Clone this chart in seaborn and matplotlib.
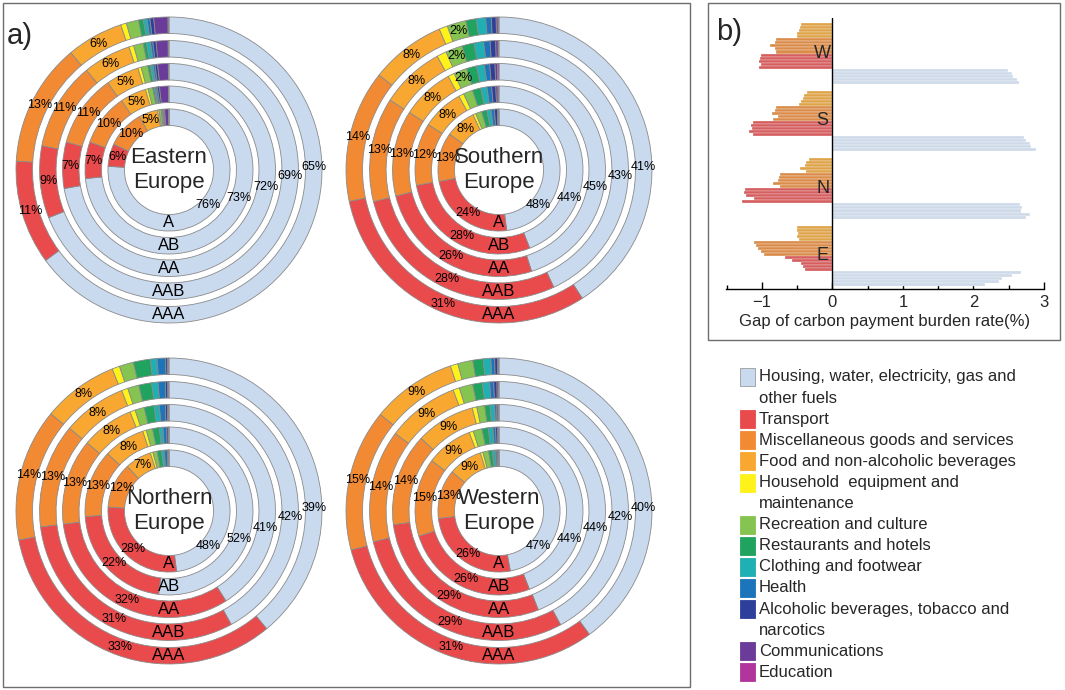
import numpy as np
import pandas as pd
import matplotlib
matplotlib.use('Agg')
import matplotlib.pyplot as plt
import seaborn as sns
from matplotlib.patches import Rectangle
from matplotlib.ticker import MultipleLocator

# ---------------- data ----------------
categories = ["Housing, water, electricity, gas and\nother fuels", "Transport",
              "Miscellaneous goods and services", "Food and non-alcoholic beverages",
              "Household  equipment and\nmaintenance", "Recreation and culture",
              "Restaurants and hotels", "Clothing and footwear", "Health",
              "Alcoholic beverages, tobacco and\nnarcotics", "Communications", "Education"]
colors = ["#C9D9EE", "#E94A4C", "#F28A33", "#F8A830", "#FFF21A", "#86C451",
          "#20A35E", "#1EB0B3", "#1C74BA", "#2D3F9B", "#6A3B98", "#B0359D"]
rings = ["A", "AB", "AA", "AAB", "AAA"]
regions = ["Eastern\nEurope", "Southern\nEurope", "Northern\nEurope", "Western\nEurope"]

eastern = [
    [76, 6, 10, 5, 0.4, 0.6, 0.2, 0.2, 0.2, 0.3, 1.1, 0.05],
    [73, 7, 10, 5, 0.5, 0.9, 0.3, 0.3, 0.3, 0.4, 1.7, 0.1],
    [72, 7, 11, 5, 0.5, 1.0, 0.4, 0.4, 0.3, 0.4, 1.6, 0.1],
    [69, 9, 11, 6, 0.6, 1.2, 0.4, 0.5, 0.3, 0.4, 1.5, 0.1],
    [65, 11, 13, 6, 0.6, 1.3, 0.5, 0.4, 0.3, 0.4, 1.5, 0.1],
]
southern = [
    [48, 24, 13, 8, 0.8, 1.6, 1.4, 1.1, 0.9, 0.8, 0.3, 0.1],
    [44, 28, 12, 8, 1.0, 1.8, 1.6, 1.2, 0.9, 0.8, 0.4, 0.2],
    [45, 26, 13, 8, 1.0, 2.0, 1.5, 1.2, 0.8, 0.8, 0.4, 0.2],
    [43, 28, 13, 8, 1.2, 2.1, 1.5, 1.2, 0.8, 0.7, 0.3, 0.1],
    [41, 31, 14, 8, 0.9, 2.0, 1.1, 1.0, 0.6, 0.5, 0.2, 0.1],
]
northern = [
    [48, 28, 12, 7, 0.7, 1.1, 1.2, 0.7, 0.8, 0.3, 0.1, 0.05],
    [52, 22, 13, 8, 0.7, 1.2, 1.3, 0.7, 0.7, 0.3, 0.1, 0.05],
    [41, 32, 13, 8, 0.8, 1.4, 1.5, 0.8, 0.9, 0.3, 0.2, 0.05],
    [42, 31, 13, 8, 0.8, 1.4, 1.6, 0.8, 0.9, 0.3, 0.1, 0.05],
    [39, 33, 14, 8, 0.8, 1.5, 1.8, 0.7, 0.9, 0.2, 0.1, 0.05],
]
western = [
    [47, 26, 13, 9, 0.7, 1.5, 1.0, 0.8, 0.4, 0.3, 0.2, 0.05],
    [44, 26, 15, 9, 0.8, 1.7, 1.2, 0.9, 0.5, 0.4, 0.2, 0.05],
    [44, 29, 14, 9, 0.7, 1.2, 0.8, 0.7, 0.3, 0.2, 0.1, 0.05],
    [42, 29, 14, 9, 0.8, 1.7, 1.2, 0.9, 0.5, 0.4, 0.2, 0.05],
    [40, 31, 15, 9, 0.8, 1.6, 1.1, 0.8, 0.4, 0.3, 0.1, 0.05],
]
region_shares = [eastern, southern, northern, western]

gap_regions = ["W", "S", "N", "E"]
gap_food = [[-0.44, -0.46, -0.48, -0.50, -0.51],
            [-0.36, -0.40, -0.42, -0.44, -0.47],
            [-0.33, -0.37, -0.39, -0.46, -0.37],
            [-0.50, -0.51, -0.49, -0.50, -0.47]]
gap_misc = [[-0.80, -0.82, -0.89, -0.81, -0.80],
            [-0.80, -0.81, -0.86, -0.77, -0.84],
            [-0.74, -0.76, -0.77, -0.85, -0.75],
            [-1.11, -1.08, -1.05, -1.01, -0.97]]
gap_transport = [[-1.01, -1.03, -1.04, -1.02, -1.04],
                 [-1.13, -1.16, -1.14, -1.18, -1.12],
                 [-1.24, -1.26, -1.22, -1.11, -1.28],
                 [-0.68, -0.58, -0.44, -0.42, -0.39]]
gap_housing = [[2.49, 2.54, 2.56, 2.61, 2.65],
               [2.71, 2.74, 2.80, 2.81, 2.88],
               [2.66, 2.69, 2.67, 2.80, 2.75],
               [2.67, 2.55, 2.40, 2.36, 2.17]]

# ---------------- style ----------------
sns.set_theme(style="white")
plt.rcParams['font.family'] = ['Liberation Sans', 'DejaVu Sans']

W, H = 1065, 690
fig = plt.figure(figsize=(W / 100, H / 100), dpi=100)

def fx(px):
    return px / W

def fy(py):
    return 1 - py / H

# panel frames
fig.patches.append(Rectangle((fx(3), fy(687)), fx(687), (684) / H, transform=fig.transFigure,
                             fill=False, edgecolor="#6d6d6d", linewidth=1.0))
fig.patches.append(Rectangle((fx(708), fy(340)), fx(352), (337) / H, transform=fig.transFigure,
                             fill=False, edgecolor="#6d6d6d", linewidth=1.0))

# ---------------- donuts ----------------
centers = [(169, 170), (499, 170), (169, 511), (499, 511)]
R = 153
r_out = [0.399, 0.549, 0.696, 0.846, 1.0]
ring_w = 0.108
housing_label_angle = [-42, -22, -10, -3, 1]

for reg, shares, (cx, cy) in zip(regions, region_shares, centers):
    ax = fig.add_axes([fx(cx - R), fy(cy + R), 2 * R / W, 2 * R / H])
    for k, vals in enumerate(shares):
        vals = np.asarray(vals, dtype=float)
        ax.pie(vals, radius=r_out[k], startangle=90, counterclock=False, colors=colors,
               wedgeprops=dict(width=ring_w, edgecolor="#8a8a8a", linewidth=0.6))
        tot = vals.sum()
        cum = np.cumsum(vals) / tot
        rm = r_out[k] - ring_w / 2
        for j, v in enumerate(vals):
            if j < 4 or v >= 1.95:
                if j == 0:
                    ang = np.deg2rad(housing_label_angle[k])
                else:
                    ang = np.deg2rad(90 - 360 * (cum[j] - v / tot / 2))
                ax.text(rm * np.cos(ang), rm * np.sin(ang), f"{v:.0f}%", ha="center",
                        va="center", fontsize=9, color="black")
        ax.text(0, -rm, rings[k], ha="center", va="center", fontsize=12, color="black")
    ax.text(0, 0, reg, ha="center", va="center", fontsize=16, linespacing=1.2)
    ax.set_xlim(-1.0, 1.0)
    ax.set_ylim(-1.0, 1.0)
    ax.set_aspect("equal")
    ax.axis("off")

fig.text(fx(7), fy(36), "a)", fontsize=21, ha="left", va="center")
fig.text(fx(716), fy(32), "b)", fontsize=21, ha="left", va="center")

# ---------------- panel b ----------------
gap_cats = [(categories[3], gap_food), (categories[2], gap_misc),
            (categories[1], gap_transport), (categories[0], gap_housing)]
group_step = 22.3
rows = []
for g, rg in enumerate(gap_regions):
    for c, (cname, arr) in enumerate(gap_cats):
        for i, v in enumerate(arr[g]):
            rows.append({"region": rg, "cat": cname, "pos": g * group_step + c * 5 + i, "value": v})
df = pd.DataFrame(rows)
pal = {categories[i]: colors[i] for i in range(4)}

axb = fig.add_axes([fx(726), fy(289), 318 / W, 271 / H])
sns.barplot(data=df, x="value", y="pos", hue="cat", palette=pal, orient="h",
            native_scale=True, dodge=False, width=1.0, edgecolor="white", linewidth=0.2,
            legend=False, errorbar=None, ax=axb)
axb.set_xlim(-1.51, 3.0)
axb.set_ylim(87.4, -2.25)
axb.axvline(0, color="black", linewidth=1.0)
for s in ["left", "top", "right"]:
    axb.spines[s].set_visible(False)
axb.spines["bottom"].set_color("black")
axb.spines["bottom"].set_linewidth(1.0)
axb.set_yticks([])
axb.set_ylabel("")
axb.xaxis.set_major_locator(MultipleLocator(1))
axb.xaxis.set_minor_locator(MultipleLocator(0.5))
axb.tick_params(axis="x", which="major", direction="in", length=5, width=1, color="black",
                labelsize=12, pad=4, bottom=True)
axb.tick_params(axis="x", which="minor", direction="in", length=3, width=1, color="black",
                bottom=True)
axb.set_xlabel("Gap of carbon payment burden rate(%)", fontsize=12, labelpad=3)
for g, rg in enumerate(gap_regions):
    axb.text(-0.14, g * group_step + 9.5, rg, ha="center", va="center", fontsize=13)

# ---------------- legend ----------------
line_h = 21.1
y0 = 377
line = 0
for cname, col in zip(categories, colors):
    yc = y0 + line * line_h
    fig.patches.append(Rectangle((fx(740), fy(yc + 9)), 15 / W, 18 / H, transform=fig.transFigure,
                                 facecolor=col, edgecolor="#9a9a9a" if col == colors[0] else col,
                                 linewidth=0.6))
    for t in cname.split("\n"):
        fig.text(fx(759), fy(y0 + line * line_h), t, ha="left", va="center", fontsize=12)
        line += 1

fig.savefig("out.png", dpi=100)
